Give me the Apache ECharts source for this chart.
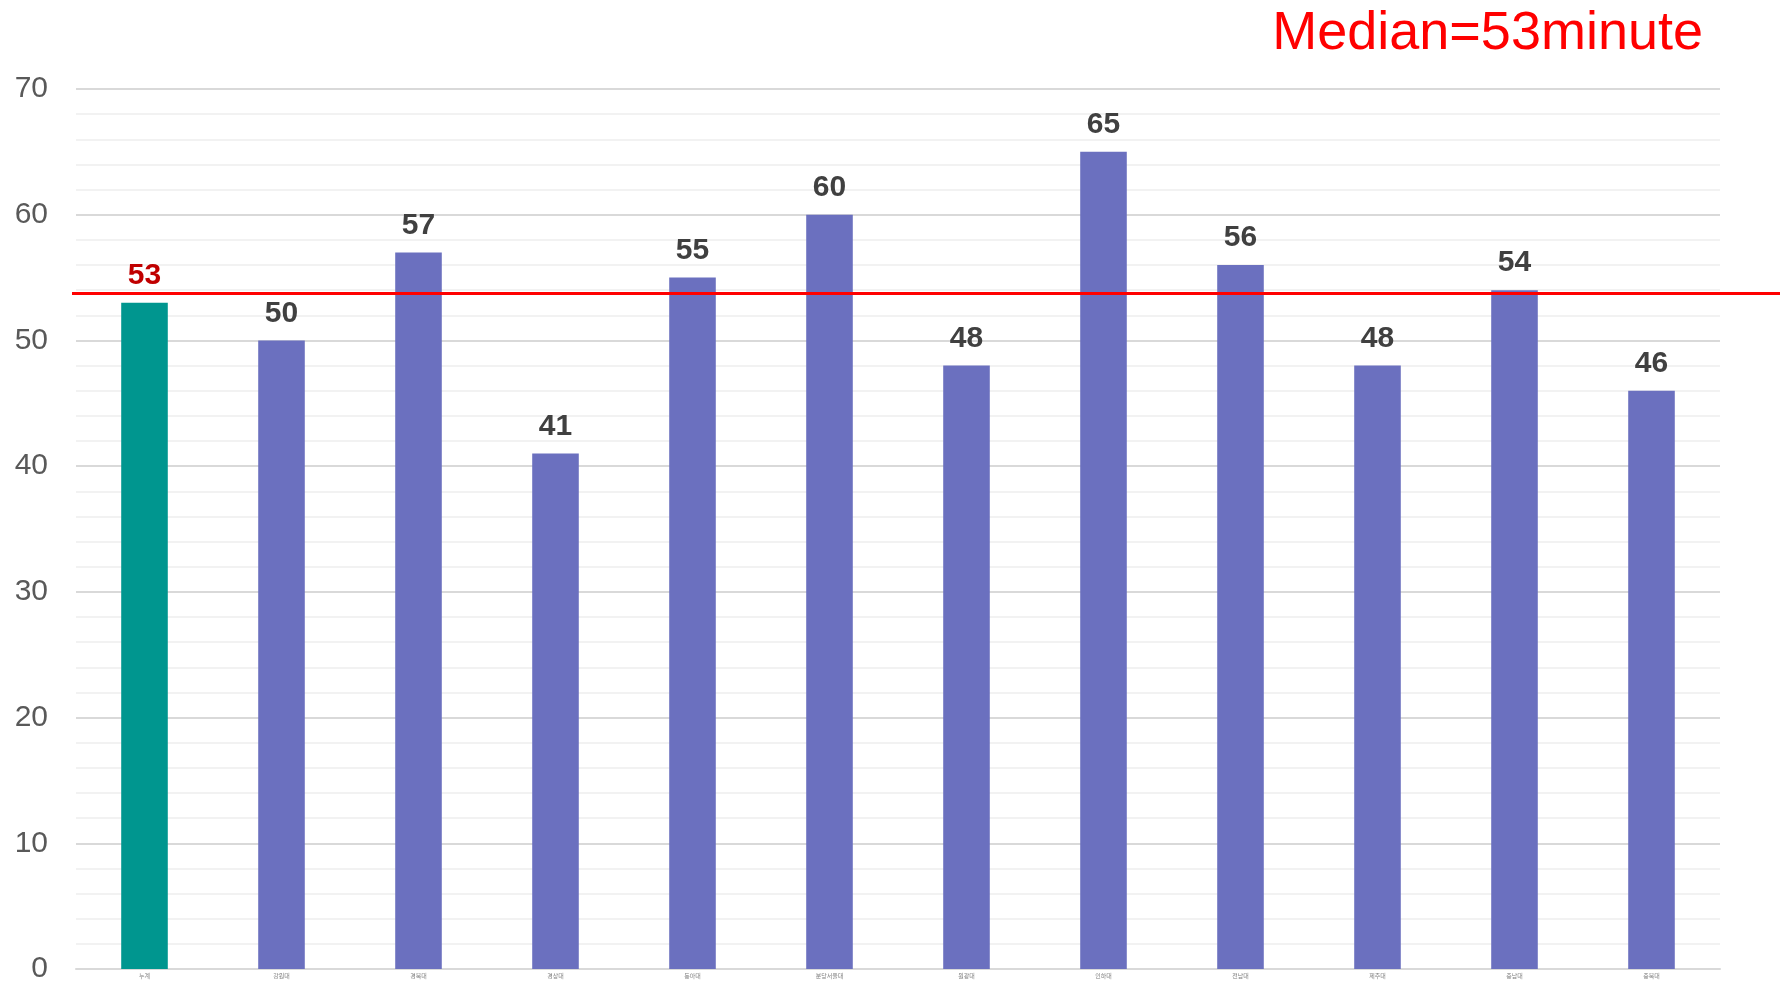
<!DOCTYPE html>
<html>
<head>
<meta charset="utf-8">
<script src="https://cdn.jsdelivr.net/npm/echarts@6/dist/echarts.min.js"></script>
<style>
  html, body { margin: 0; padding: 0; background: #fff; }
  #chart { width: 1784px; height: 984px; }
</style>
</head>
<body>
<div id="chart"></div>
<script>
var categories = ['누계', '강원대', '경북대', '경상대', '동아대', '분당서울대', '원광대', '인하대', '전남대', '제주대', '충남대', '충북대'];
var minutes = [53, 50, 57, 41, 55, 60, 48, 65, 56, 48, 54, 46];
var medianLine = 53.8;
var medianText = 'Median=53minute';

var chart = echarts.init(document.getElementById('chart'));

// 첫 막대(누계)만 색을 다르게
var barData = minutes.map(function (v, i) {
    if (i === 0) {
        return {
            value: v,
            itemStyle: { color: '#00968F' },
            label: { color: '#C00000' }
        };
    }
    return v;
});

var option = {
    backgroundColor: '#fff',
    animation: false,
    title: {
        text: medianText,
        right: 76,
        top: 2,
        textStyle: {
            color: '#FF0000',
            fontSize: 54,
            fontWeight: 'normal',
            fontFamily: 'Liberation Sans'
        }
    },
    grid: [
        { left: 76, right: 64, top: 89, bottom: 11 },
        { left: 72, right: 4, top: 89, bottom: 11 }
    ],
    xAxis: [
        {
            type: 'category',
            gridIndex: 0,
            data: categories,
            axisTick: { show: false },
            axisLine: { lineStyle: { color: '#D9D9D9', width: 2 } },
            axisLabel: {
                fontSize: 6,
                color: '#7F7F7F',
                margin: 4,
                fontFamily: 'Noto Sans CJK KR'
            }
        },
        { type: 'value', gridIndex: 1, min: 0, max: 1, show: false }
    ],
    yAxis: [
        {
            type: 'value',
            gridIndex: 0,
            min: 0,
            max: 70,
            interval: 10,
            axisLine: { show: false },
            axisTick: { show: false },
            axisLabel: {
                fontSize: 30,
                color: '#595959',
                margin: 28,
                fontFamily: 'Liberation Sans'
            },
            splitLine: { lineStyle: { color: '#D9D9D9', width: 2 } },
            minorTick: { show: false, splitNumber: 5 },
            minorSplitLine: { show: true, lineStyle: { color: '#F2F2F2', width: 2 } }
        },
        { type: 'value', gridIndex: 1, min: 0, max: 70, show: false }
    ],
    series: [
        {
            type: 'bar',
            xAxisIndex: 0,
            yAxisIndex: 0,
            data: barData,
            barWidth: '34%',
            itemStyle: { color: '#6B70BF' },
            label: {
                show: true,
                position: 'top',
                distance: 12,
                fontSize: 30,
                fontWeight: 'bold',
                color: '#404040',
                fontFamily: 'Liberation Sans'
            }
        },
        {
            // 중앙값 선
            type: 'line',
            xAxisIndex: 1,
            yAxisIndex: 1,
            data: [[0, medianLine], [1, medianLine]],
            symbol: 'none',
            lineStyle: { color: '#FF0000', width: 3 },
            z: 5
        }
    ]
};

chart.setOption(option);
</script>
</body>
</html>
